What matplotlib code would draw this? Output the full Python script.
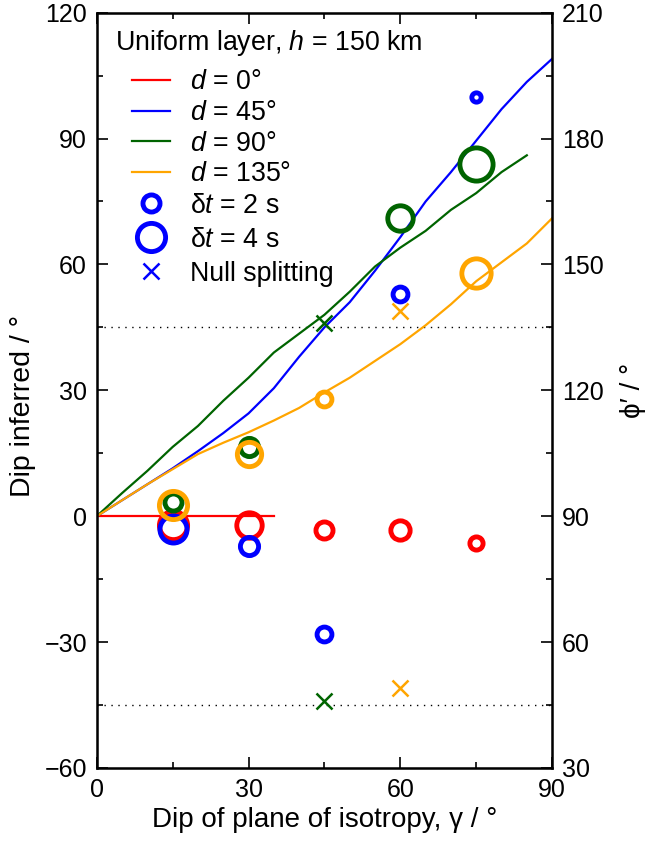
import numpy as np
import matplotlib
matplotlib.use("Agg")
import matplotlib.pyplot as plt
from matplotlib.lines import Line2D
from matplotlib import font_manager

names = {f.name for f in font_manager.fontManager.ttflist}
narrow = 'Liberation Sans Narrow' if 'Liberation Sans Narrow' in names else 'Liberation Sans'

plt.rcParams['font.family'] = [narrow, 'DejaVu Sans']
plt.rcParams['mathtext.fontset'] = 'custom'
plt.rcParams['mathtext.rm'] = narrow
plt.rcParams['mathtext.it'] = narrow + ':italic'
plt.rcParams['font.size'] = 18

# modelled curves (gamma in degrees)
gamma_line = [0, 5, 10, 15, 20, 25, 30, 35, 40, 45, 50, 55, 60, 65, 70, 75, 80, 85, 90]
dip_d0 = [0, 0, 0, 0, 0, 0, 0, 0]  # only to 35
dip_d45 = [0, 3.8, 7.6, 11.4, 15.5, 19.8, 24.5, 30.5, 38, 45, 51, 58.5, 66.5, 75, 82, 89.5, 97, 103.5, 109]
dip_d90 = [0, 5.5, 10.8, 16.5, 21.5, 27.5, 33, 39, 43.5, 48, 53.5, 59.5, 64, 68, 73, 77, 82, 86]  # to 85
dip_d135 = [0, 3.8, 7.6, 11.2, 14.8, 17.5, 20, 22.8, 25.8, 29.5, 33, 37, 41, 45.5, 50.5, 56, 60.5, 65, 71]

# measured points
gamma_pts = [15, 30, 45, 60, 75]
meas_d0 = [-2, -2, -3.3, -3.3, -6.3]
dt_d0 = [4, 3.5, 2, 2.4, 1.3]
meas_d45 = [-3, -7, -28, 53, 100]
dt_d45 = [3.8, 2.2, 1.6, 1.6, 0.6]
meas_d90 = [3.5, 16.5, np.nan, 71, 84]
dt_d90 = [2, 2.2, np.nan, 3.5, 4.9]
meas_d135 = [2.7, 14.8, 28, np.nan, 58]
dt_d135 = [4, 3.3, 1.6, np.nan, 4.2]

# null splitting
null_d90_gamma, null_d90 = 45, [46, -44]
null_d135_gamma, null_d135 = 60, [49, -41]

red, blue, green, orange = '#ff0000', '#0000ff', '#006400', '#ffa500'

fig = plt.figure(figsize=(6.45, 8.43), dpi=100)
ax = fig.add_axes([0.150, 0.089, 0.706, 0.896])

ax.axhline(45, color='k', ls=(0, (1, 4)), lw=1)
ax.axhline(-45, color='k', ls=(0, (1, 4)), lw=1)

ax.plot(gamma_line[:len(dip_d0)], dip_d0, color=red, lw=1.6)
ax.plot(gamma_line, dip_d45, color=blue, lw=1.6)
ax.plot(gamma_line[:len(dip_d90)], dip_d90, color=green, lw=1.6)
ax.plot(gamma_line, dip_d135, color=orange, lw=1.6)


def msize(dt):
    return 4.3 + 4.0 * dt


for meas, dts, c in [(meas_d0, dt_d0, red), (meas_d45, dt_d45, blue),
                     (meas_d90, dt_d90, green), (meas_d135, dt_d135, orange)]:
    for g, y, dt in zip(gamma_pts, meas, dts):
        if np.isnan(y):
            continue
        ax.plot(g, y, 'o', mfc='none', mec=c, mew=3.5, ms=msize(dt))

ax.plot([null_d90_gamma] * 2, null_d90, 'x', color=green, ms=11.5, mew=1.8, ls='none')
ax.plot([null_d135_gamma] * 2, null_d135, 'x', color=orange, ms=11.5, mew=1.8, ls='none')

ax.set_xlim(0, 90)
ax.set_ylim(-60, 120)
ax.set_xticks(np.arange(0, 91, 30))
ax.set_xticks(np.arange(0, 91, 15), minor=True)
ax.set_yticks(np.arange(-60, 121, 30))
ax.set_yticks(np.arange(-60, 121, 15), minor=True)
ax.set_yticklabels(['\u221260', '\u221230', '0', '30', '60', '90', '120'])
ax.tick_params(which='both', direction='in', top=True, right=False, width=1.2)
ax.tick_params(which='major', length=8, pad=7)
ax.tick_params(which='minor', length=4)
ax.set_xlabel('Dip of plane of isotropy, \u03b3 / \u00b0', fontsize=20, labelpad=4)
ax.set_ylabel('Dip inferred / \u00b0', fontsize=20.5)
ax.yaxis.set_label_coords(-0.133, 0.479)
for s in ax.spines.values():
    s.set_linewidth(1.8)

ax2 = ax.twinx()
ax2.set_ylim(30, 210)
ax2.set_yticks(np.arange(30, 211, 30))
ax2.set_yticks(np.arange(30, 211, 15), minor=True)
ax2.tick_params(which='both', direction='in', width=1.2)
ax2.tick_params(which='major', length=8, pad=7)
ax2.tick_params(which='minor', length=4)
ax2.set_ylabel('\u03d5\u2032 / \u00b0', fontsize=20, labelpad=12)

line_handles = [
    Line2D([], [], color=red, lw=1.6),
    Line2D([], [], color=blue, lw=1.6),
    Line2D([], [], color=green, lw=1.6),
    Line2D([], [], color=orange, lw=1.6),
]
line_labels = ['$d$ = 0\u00b0', '$d$ = 45\u00b0', '$d$ = 90\u00b0', '$d$ = 135\u00b0']
mark_handles = [
    Line2D([], [], ls='none', marker='o', mfc='none', mec=blue, mew=3.5, ms=msize(2)),
    Line2D([], [], ls='none', marker='o', mfc='none', mec=blue, mew=3.5, ms=msize(4)),
    Line2D([], [], ls='none', marker='x', color=blue, ms=11.5, mew=1.8),
]
mark_labels = ['\u03b4$t$ = 2 s', '\u03b4$t$ = 4 s', 'Null splitting']

ax.text(0.0396, 0.960, 'Uniform layer, $h$ = 150 km', transform=ax.transAxes,
        fontsize=19.3, ha='left', va='center')
leg1 = ax.legend(line_handles, line_labels, loc='upper left', frameon=False, fontsize=19.3,
                 bbox_to_anchor=(0.077, 0.925), handlelength=1.42, handletextpad=0.75,
                 labelspacing=0.175, borderaxespad=0, borderpad=0)
ax.add_artist(leg1)
leg2 = ax.legend(mark_handles, mark_labels, loc='upper left', frameon=False, fontsize=19.3,
                 bbox_to_anchor=(0.077, 0.7616), handlelength=1.42, handletextpad=0.75,
                 labelspacing=0.3, borderaxespad=0, borderpad=0)

fig.savefig('out.png', dpi=100)
